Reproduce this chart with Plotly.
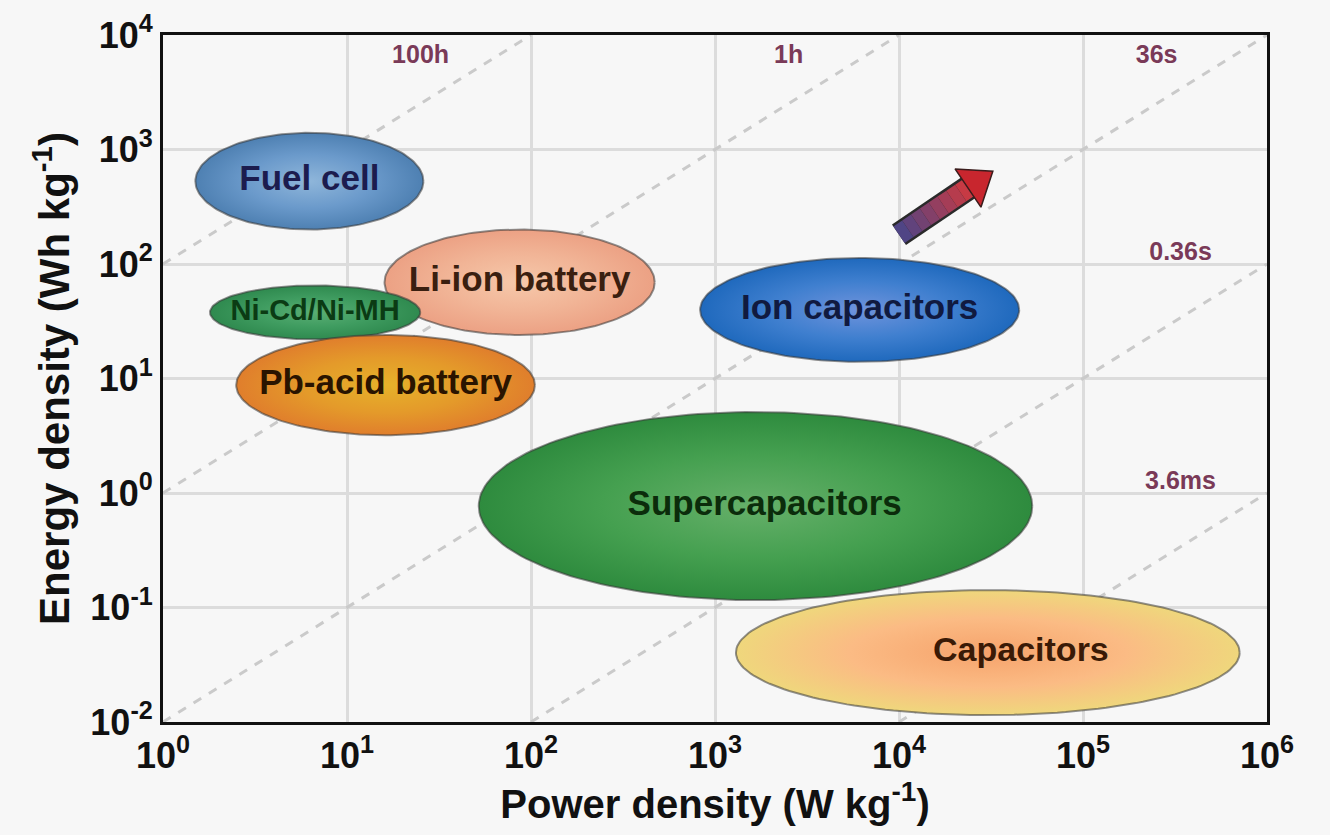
import numpy as np
import plotly.graph_objects as go

# ---------------- data ----------------
devices = ["Fuel cell", "Li-ion battery", "Ni-Cd/Ni-MH", "Pb-acid battery",
           "Ion capacitors", "Capacitors", "Supercapacitors"]
power_min = [1.5, 16, 1.8, 2.5, 830, 1300, 52]            # W/kg
power_max = [26, 470, 25, 105, 45000, 710000, 53000]      # W/kg
energy_min = [200, 24, 22, 3.2, 14, 0.0115, 0.116]        # Wh/kg
energy_max = [1400, 200, 65, 24, 113, 0.142, 5.1]         # Wh/kg

discharge_hours = [100, 1, 0.01, 1e-4, 1e-6]
discharge_labels = ["100h", "1h", "36s", "0.36s", "3.6ms"]

x_tickvals = [1, 10, 100, 1e3, 1e4, 1e5, 1e6]
x_ticktext = ["10<sup>0</sup>", "10<sup>1</sup>", "10<sup>2</sup>", "10<sup>3</sup>",
              "10<sup>4</sup>", "10<sup>5</sup>", "10<sup>6</sup>"]
y_tickvals = [1e-2, 1e-1, 1, 10, 100, 1e3, 1e4]
y_ticktext = ["10<sup>-2</sup>", "10<sup>-1</sup>", "10<sup>0</sup>", "10<sup>1</sup>",
              "10<sup>2</sup>", "10<sup>3</sup>", "10<sup>4</sup>"]

arrow_power = [1.0e4, 3.3e4]
arrow_energy = [180, 660]

# ---------------- styles ----------------
FONT = "Liberation Sans, Arial, Helvetica, sans-serif"
inner_colors = ["#8fb6da", "#f6c8aa", "#5aae74", "#e6b22a", "#6f93dc", "#f6a36c", "#66b06a"]
outer_colors = ["#4e80b2", "#eca184", "#2f8a4f", "#e07e2c", "#1f69bd", "#efd77c", "#2e8b3e"]
mid_colors = ["#6b9acb", "#f1b496", "#3f9c60", "#e49a2a", "#3f7fcf", "#fbbb84", "#45a050"]
text_colors = ["#1c1c4e", "#3a1f10", "#0b3b14", "#2a1400", "#101a40", "#3a1a06", "#0b2c0b"]
label_sizes = [35, 35, 29, 35, 35, 34, 35]
label_shift_dec = [0, 0, 0, 0, 0, 0.18, 0.05]   # horizontal label offset (decades)
time_color = "#7a3a58"

X_LO, X_HI = 0, 6     # log10 range of power
Y_LO, Y_HI = -2, 4    # log10 range of energy

fig = go.Figure()

# constant discharge-time lines  (E = t * P)
for t_h in discharge_hours:
    p0 = max(10 ** X_LO, 10 ** Y_LO / t_h)
    p1 = min(10 ** X_HI, 10 ** Y_HI / t_h)
    fig.add_trace(go.Scatter(x=[p0, p1], y=[t_h * p0, t_h * p1], mode="lines",
                             line=dict(color="#cacaca", width=3, dash="dash"),
                             hoverinfo="skip", showlegend=False))

# device ellipses
theta = np.linspace(0, 2 * np.pi, 181)
for i, name in enumerate(devices):
    lx0, lx1 = np.log10(power_min[i]), np.log10(power_max[i])
    ly0, ly1 = np.log10(energy_min[i]), np.log10(energy_max[i])
    cx, cy = (lx0 + lx1) / 2, (ly0 + ly1) / 2
    ax, ay = (lx1 - lx0) / 2, (ly1 - ly0) / 2
    xs = 10 ** (cx + ax * np.cos(theta))
    ys = 10 ** (cy + ay * np.sin(theta))
    fig.add_trace(go.Scatter(
        x=xs, y=ys, mode="lines", fill="toself",
        fillgradient=dict(type="radial",
                          colorscale=[[0, inner_colors[i]], [0.55, mid_colors[i]], [1, outer_colors[i]]]),
        line=dict(color="rgba(55,55,55,0.55)", width=2),
        hoverinfo="skip", showlegend=False))

# arrow (gradient shaft + head)
ax0, ax1 = np.log10(arrow_power)
ay0, ay1 = np.log10(arrow_energy)
frac_end = 0.74
fig.add_trace(go.Scatter(
    x=[10 ** ax0, 10 ** (ax0 + frac_end * (ax1 - ax0))],
    y=[10 ** ay0, 10 ** (ay0 + frac_end * (ay1 - ay0))],
    mode="lines", line=dict(color="#2a2a2a", width=25),
    hoverinfo="skip", showlegend=False))
nseg = 8
c0 = np.array([0x48, 0x46, 0x8a])
c1 = np.array([0xd0, 0x3a, 0x40])
for k in range(nseg):
    f0, f1 = k / nseg * frac_end, (k + 1) / nseg * frac_end
    c = (c0 + (c1 - c0) * (k + 0.5) / nseg).astype(int)
    fig.add_trace(go.Scatter(
        x=[10 ** (ax0 + f0 * (ax1 - ax0)), 10 ** (ax0 + f1 * (ax1 - ax0))],
        y=[10 ** (ay0 + f0 * (ay1 - ay0)), 10 ** (ay0 + f1 * (ay1 - ay0))],
        mode="lines", line=dict(color="rgb(%d,%d,%d)" % tuple(c), width=20),
        hoverinfo="skip", showlegend=False))
fig.add_trace(go.Scatter(
    x=[10 ** (ax0 + 0.5 * (ax1 - ax0)), 10 ** (ax0 + 0.81 * (ax1 - ax0))],
    y=[10 ** (ay0 + 0.5 * (ay1 - ay0)), 10 ** (ay0 + 0.81 * (ay1 - ay0))],
    mode="markers",
    marker=dict(symbol="triangle-up", angleref="previous", size=[0, 40], color="#c8262e",
                opacity=1, line=dict(color="#3a1c1c", width=1.5)),
    hoverinfo="skip", showlegend=False))

# device labels
for i, name in enumerate(devices):
    cx = (np.log10(power_min[i]) + np.log10(power_max[i])) / 2 + label_shift_dec[i]
    cy = (np.log10(energy_min[i]) + np.log10(energy_max[i])) / 2
    fig.add_trace(go.Scatter(
        x=[10 ** cx], y=[10 ** cy], mode="text", text=[name],
        textfont=dict(family=FONT, size=label_sizes[i], color=text_colors[i], weight="bold"),
        hoverinfo="skip", showlegend=False))

# discharge-time labels
for t_h, lab in zip(discharge_hours, discharge_labels):
    p_top = 10 ** Y_HI / t_h
    if p_top <= 10 ** X_HI:
        lx, ly = np.log10(p_top) - 0.6, Y_HI - 0.19
    else:
        lx, ly = X_HI - 0.47, np.log10(t_h * 10 ** X_HI) + 0.09
    fig.add_trace(go.Scatter(
        x=[10 ** lx], y=[10 ** ly], mode="text", text=[lab],
        textfont=dict(family=FONT, size=25, color=time_color, weight="bold"),
        hoverinfo="skip", showlegend=False))

axis_common = dict(
    type="log", showgrid=True, gridcolor="#dcdcdc", gridwidth=3,
    showline=True, linecolor="#111111", linewidth=3, mirror=True,
    ticks="", tickfont=dict(family=FONT, size=36, color="#111111", weight="bold"),
    automargin=False, zeroline=False,
)

fig.update_layout(
    width=1330, height=835,
    margin=dict(l=163, r=63, t=35, b=113),
    paper_bgcolor="#f7f7f7", plot_bgcolor="#f7f7f7",
    showlegend=False,
    xaxis=dict(range=[X_LO, X_HI], tickvals=x_tickvals, ticktext=x_ticktext,
               title=dict(text="Power density (W kg<sup>-1</sup>)", standoff=6,
                          font=dict(family=FONT, size=40, color="#111111", weight="bold")),
               **axis_common),
    yaxis=dict(range=[Y_LO, Y_HI], tickvals=y_tickvals, ticktext=y_ticktext,
               title=dict(text="Energy density (Wh kg<sup>-1</sup>)", standoff=8,
                          font=dict(family=FONT, size=42, color="#111111", weight="bold")),
               **axis_common),
)

fig.write_html("out.html", config={"displayModeBar": False},
               post_script="document.body.style.margin='0';")
